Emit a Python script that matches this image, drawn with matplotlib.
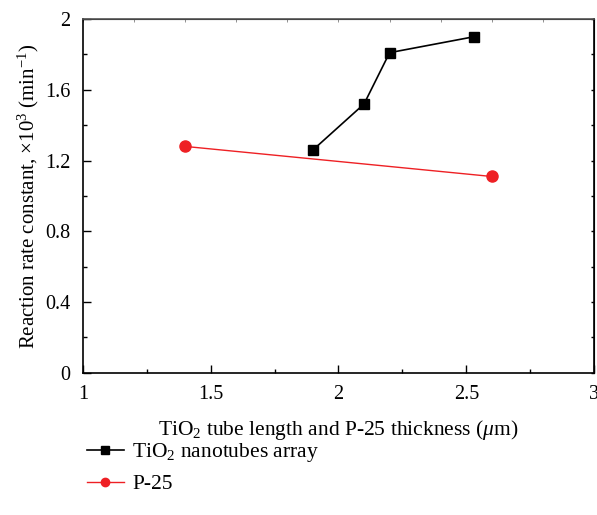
import numpy as np
import matplotlib
matplotlib.use('Agg')
import matplotlib.pyplot as plt
from matplotlib.ticker import MultipleLocator

plt.rcParams['font.family'] = ['Liberation Serif', 'DejaVu Serif']
plt.rcParams['mathtext.fontset'] = 'custom'
plt.rcParams['mathtext.rm'] = 'Liberation Serif'
plt.rcParams['mathtext.it'] = 'Liberation Serif:italic'

# data
tube_x = [1.9, 2.1, 2.2, 2.53]
tube_k = [1.26, 1.52, 1.81, 1.90]
p25_x = [1.4, 2.6]
p25_k = [1.28, 1.11]

xticks = [1, 1.5, 2, 2.5, 3]
xticklabels = ['1', '1.5', '2', '2.5', '3']
yticks = [0, 0.4, 0.8, 1.2, 1.6, 2.0]
yticklabels = ['0', '0.4', '0.8', '1.2', '1.6', '2']

fig = plt.figure(figsize=(5.97, 5.15), dpi=100)
ax = fig.add_axes([0.139, 0.276, 0.856, 0.687])

ax.plot(tube_x, tube_k, color='black', lw=1.2, marker='s', ms=7,
        label=r'TiO$_2$ nanotubes array')
ax.plot(p25_x, p25_k, color='#ee2024', lw=1.0, marker='o', ms=8,
        label='P-25')

ax.set_xlim(1, 3)
ax.set_ylim(0, 2)
ax.set_xticks(xticks)
ax.set_xticklabels(xticklabels)
ax.set_yticks(yticks)
ax.set_yticklabels(yticklabels)
ax.xaxis.set_minor_locator(MultipleLocator(0.25))
ax.yaxis.set_minor_locator(MultipleLocator(0.2))
ax.tick_params(which='major', direction='in', length=6, width=1, labelsize=14.5, pad=9)
ax.tick_params(which='minor', direction='in', length=3, width=1)

top = ax.secondary_xaxis('top')
top.set_xticks(np.arange(1, 3.01, 0.2))
top.tick_params(direction='in', length=2, width=0.6, labeltop=False, color='grey')
right = ax.secondary_yaxis('right')
right.set_yticks(np.arange(0, 2.01, 0.2))
right.tick_params(direction='in', length=2, width=1, labelright=False)

for s in ax.spines.values():
    s.set_linewidth(1.2)
ax.spines['top'].set_color('#555555')

ax.set_xlabel(r'TiO$_2$ tube length and P-25 thickness ($\mathit{\mu}$m)', fontsize=15.5, labelpad=10)
ax.set_ylabel(r'Reaction rate constant, $\times$10$^3$ (min$^{-1}$)', fontsize=15, labelpad=3)

fig.legend(loc='upper left', bbox_to_anchor=(0.128, 0.164), frameon=False,
           fontsize=15.5, handlelength=1.7, handletextpad=0.4, labelspacing=0.45,
           markerscale=0.75, borderpad=0)

fig.savefig('out.png', dpi=100)
